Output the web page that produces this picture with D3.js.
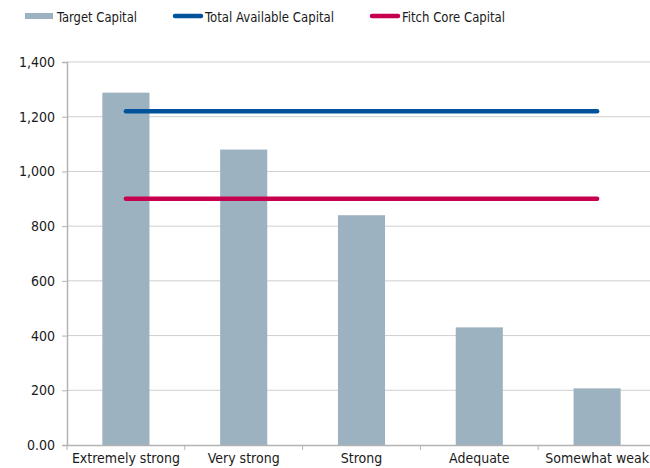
<!DOCTYPE html>
<html>
<head>
<meta charset="utf-8">
<script src="https://cdn.jsdelivr.net/npm/d3@7"></script>
<style>
  html, body { margin: 0; padding: 0; background: #fff; }
  svg text { font-family: "DejaVu Sans Condensed", "DejaVu Sans", sans-serif; fill: #1a1a1a; }
</style>
</head>
<body>
<svg id="chart" width="650" height="468"></svg>
<script>
// Capital by rating category
const categories = ["Extremely strong", "Very strong", "Strong", "Adequate", "Somewhat weak"];
const targetCapital = [1288, 1080, 840, 430, 207];
const totalAvailable = [1220, 1220, 1220, 1220, 1220];
const fitchCore = [900, 900, 900, 900, 900];
const yTicks = [0, 200, 400, 600, 800, 1000, 1200, 1400];
const yTickLabels = ["0.00", "200", "400", "600", "800", "1,000", "1,200", "1,400"];

const colors = { bar: "#9db2c0", blue: "#00539b", red: "#c6004e", grid: "#cfcfcf", axis: "#b3b3b3" };

const svg = d3.select("#chart");
const plotLeft = 67, plotRight = 656, plotTop = 62, plotBottom = 445;

const x = d3.scaleBand().domain(categories).range([plotLeft, plotRight]).paddingInner(0.6).paddingOuter(0.3);
const xCenter = d => x(d) + x.bandwidth() / 2;
const y = d3.scaleLinear().domain([0, 1400]).range([plotBottom, plotTop]);

// horizontal gridlines
svg.append("g")
  .selectAll("line")
  .data(yTicks.slice(1))
  .join("line")
  .attr("x1", plotLeft).attr("x2", plotRight)
  .attr("y1", d => y(d)).attr("y2", d => y(d))
  .attr("stroke", colors.grid).attr("stroke-width", 1);

// y axis
const yAxis = d3.axisLeft(y).tickValues(yTicks)
  .tickFormat((d, i) => yTickLabels[i]).tickSize(5).tickPadding(7);
const gy = svg.append("g").attr("transform", `translate(${plotLeft},0)`).call(yAxis);
gy.select(".domain").attr("stroke", colors.axis).attr("stroke-width", 1.5);
gy.selectAll(".tick line").attr("stroke", colors.axis);
gy.selectAll(".tick text").style("font-size", "14px").attr("fill", "#1a1a1a");

// bars
svg.append("g")
  .selectAll("rect")
  .data(categories)
  .join("rect")
  .attr("x", d => x(d))
  .attr("width", x.bandwidth())
  .attr("y", (d, i) => y(targetCapital[i]))
  .attr("height", (d, i) => y(0) - y(targetCapital[i]))
  .attr("fill", colors.bar);

// x axis
const step = x.step();
const xAxis = d3.axisBottom(x).tickSize(0).tickPadding(8.5);
const gx = svg.append("g").attr("transform", `translate(0,${plotBottom})`).call(xAxis);
gx.select(".domain").attr("stroke", colors.axis).attr("stroke-width", 1.5);
gx.selectAll(".tick text").style("font-size", "14px").attr("fill", "#1a1a1a");
// category divider ticks
gx.selectAll(".divider")
  .data(d3.range(categories.length + 1))
  .join("line")
  .attr("class", "divider")
  .attr("x1", i => plotLeft + i * step).attr("x2", i => plotLeft + i * step)
  .attr("y1", 0).attr("y2", 5)
  .attr("stroke", colors.axis);

// horizontal capital lines
const line = d3.line().x(d => xCenter(d[0])).y(d => y(d[1]));
[[totalAvailable, colors.blue], [fitchCore, colors.red]].forEach(([vals, c]) => {
  svg.append("path")
    .datum(categories.map((cat, i) => [cat, vals[i]]))
    .attr("d", line)
    .attr("fill", "none")
    .attr("stroke", c)
    .attr("stroke-width", 4.5)
    .attr("stroke-linecap", "round");
});

// legend
const legend = svg.append("g");
const legendText = (xPos, label, len) => legend.append("text")
  .attr("x", xPos).attr("y", 22).style("font-size", "14.5px")
  .attr("textLength", len).attr("lengthAdjust", "spacingAndGlyphs").text(label);
legend.append("rect").attr("x", 25).attr("y", 13).attr("width", 28).attr("height", 6).attr("fill", colors.bar);
legendText(57, "Target Capital", 80);
legend.append("line").attr("x1", 175).attr("x2", 201).attr("y1", 16).attr("y2", 16)
  .attr("stroke", colors.blue).attr("stroke-width", 4.5).attr("stroke-linecap", "round");
legendText(205, "Total Available Capital", 129);
legend.append("line").attr("x1", 372).attr("x2", 398).attr("y1", 16).attr("y2", 16)
  .attr("stroke", colors.red).attr("stroke-width", 4.5).attr("stroke-linecap", "round");
legendText(402, "Fitch Core Capital", 103);
</script>
</body>
</html>
